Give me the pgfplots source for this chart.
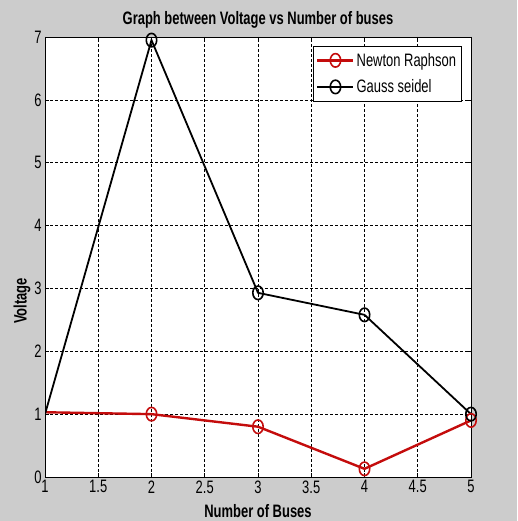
\documentclass[border=0pt]{standalone}
\usepackage{pgfplots}
\pgfplotsset{compat=1.18}
\usepackage{fontspec}
\setmainfont{Liberation Sans}[FakeStretch=0.72]
\definecolor{figgray}{RGB}{204,204,204}
\definecolor{nrred}{RGB}{196,12,12}
\begin{document}
\begin{tikzpicture}
\fill[figgray] (0pt,0pt) rectangle (517pt,521pt);
\useasboundingbox (0pt,0pt) rectangle (517pt,521pt);
\begin{axis}[
  at={(45pt,44pt)}, anchor=south west,
  scale only axis, width=426pt, height=440pt,
  xmin=1, xmax=5, ymin=0, ymax=7,
  xtick={1,1.5,2,2.5,3,3.5,4,4.5,5},
  xticklabels={1,1.5,2,2.5,3,3.5,4,4.5,5},
  ytick={0,1,2,3,4,5,6,7},
  yticklabels={0,1,2,3,4,5,6,7},
  tick align=inside, major tick length=4pt,
  tick style={black, line width=0.6pt},
  grid=major,
  grid style={black, dash pattern=on 2.5pt off 2.5pt, line width=0.6pt},
  axis line style={black, line width=0.8pt},
  axis background/.style={fill=white},
  tick label style={font=\fontsize{18}{18}\selectfont, black},
  title={Graph between Voltage vs Number of buses},
  title style={font=\bfseries\fontsize{18}{18}\selectfont, at={(axis description cs:0.5,1.025)}, anchor=center},
  xlabel={Number of Buses},
  xlabel style={font=\bfseries\fontsize{18}{18}\selectfont, at={(axis description cs:0.5,-0.078)}, anchor=center},
  ylabel={Voltage},
  ylabel style={font=\bfseries\fontsize{18}{18}\selectfont, at={(axis description cs:-0.054,0.4)}, anchor=center},
  legend style={at={(rel axis cs:0.629,0.98)}, anchor=north west, draw=black, fill=white, line width=0.6pt,
    font=\fontsize{18}{18}\selectfont, inner xsep=3pt, inner ysep=5pt, row sep=8pt},
  legend cell align=left,
  legend image code/.code={
    \draw[#1, mark=none] (0pt,0pt) -- (36pt,0pt);
    \draw[#1, only marks, mark indices={1}] plot coordinates {(18pt,0pt)};
  },
]
\addplot[nrred, line width=2.4pt, mark=o, mark size=5.2pt, mark indices={2,3,4,5},
  mark options={solid, yscale=1.3, line width=1.6pt}]
  coordinates {(1,1.03) (2,1.0) (3,0.8) (4,0.13) (5,0.9)};
\addlegendentry{Newton Raphson}
\addplot[black, line width=1.8pt, mark=o, mark size=5.2pt, mark indices={2,3,4,5},
  mark options={solid, yscale=1.3, line width=1.6pt}]
  coordinates {(1,1.0) (2,6.95) (3,2.93) (4,2.58) (5,1.0)};
\addlegendentry{Gauss seidel}
\end{axis}
\end{tikzpicture}
\end{document}
